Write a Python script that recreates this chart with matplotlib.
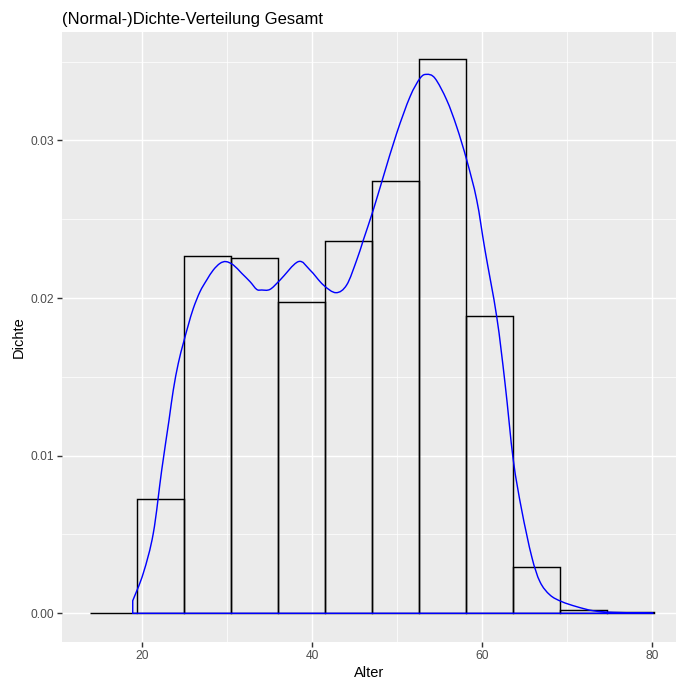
import numpy as np
import matplotlib
import matplotlib.pyplot as plt
from matplotlib.path import Path
from matplotlib.patches import PathPatch

matplotlib.rcParams.update({'font.family': ['Liberation Sans', 'DejaVu Sans']})

# Histogramm: 12 Klassen, Breite ~5.53 Jahre, als Dichte skaliert
bin_start = 13.88
bin_width = 5.533
dichte_hist = [0.0, 0.00727, 0.02265, 0.02252, 0.01973, 0.02360,
               0.02744, 0.03515, 0.01886, 0.00296, 0.00023, 0.00006]

# Kerndichteschaetzung (Alter, Dichte)
kde_alter = [18.91, 18.91, 20.15, 21.33, 22.32, 23.18, 23.68, 24.27, 24.86,
             25.45, 26.04, 26.82, 27.61, 28.39, 29.18, 29.88, 30.74, 31.73,
             32.71, 33.49, 34.08, 35.06, 36.24, 38.39, 39.76, 41.33, 42.82,
             44.08, 45.26, 46.04, 47.21, 48.39, 49.96, 51.53, 52.71, 53.49,
             54.47, 55.85, 57.02, 58.20, 59.38, 60.35, 61.73, 62.71, 63.68,
             64.67, 65.85, 66.82, 68.00, 69.38, 71.14, 73.10, 75.45, 80.15]
kde_dichte = [0.0, 0.00080, 0.00254, 0.00508, 0.00909, 0.01226, 0.01416,
              0.01586, 0.01713, 0.01829, 0.01935, 0.02040, 0.02114, 0.02178,
              0.02220, 0.02231, 0.02210, 0.02157, 0.02104, 0.02055, 0.02051,
              0.02055, 0.02114, 0.02231, 0.02178, 0.02083, 0.02034, 0.02083,
              0.02241, 0.02368, 0.02559, 0.02770, 0.03045, 0.03277, 0.03394,
              0.03419, 0.03394, 0.03256, 0.03087, 0.02876, 0.02622, 0.02305,
              0.01882, 0.01459, 0.00973, 0.00655, 0.00359, 0.00200, 0.00116,
              0.00074, 0.00042, 0.00016, 0.00006, 0.0]

x_ticks = [20, 40, 60, 80]
y_ticks = [0.00, 0.01, 0.02, 0.03]


def smooth_outline(xs, ys):
    """Geschlossener Umriss: senkrechter Anstieg, Kurve als Catmull-Rom-Bezier,
    Grundlinie zurueck zum Start."""
    p = np.column_stack([xs, ys])
    n = len(p)
    verts = [p[0], p[1]]
    codes = [Path.MOVETO, Path.LINETO]
    for i in range(1, n - 1):
        a = p[max(i - 1, 1)]
        d = p[min(i + 2, n - 1)]
        c1 = p[i] + (p[i + 1] - a) / 6
        c2 = p[i + 1] - (d - p[i]) / 6
        verts += [c1, c2, p[i + 1]]
        codes += [Path.CURVE4] * 3
    verts += [p[0], p[0]]
    codes += [Path.LINETO, Path.CLOSEPOLY]
    return Path(verts, codes)


W, H = 676, 679
fig = plt.figure(figsize=(W / 96, H / 96), dpi=96)
ax = fig.add_axes([62 / W, 1 - 642 / H, (676 - 62) / W, (642 - 32) / H])

lw = 1.07
ax.set_facecolor('#EBEBEB')
for s in ax.spines.values():
    s.set_visible(False)

# Gitter wie bei theme_grey
for x in [30, 50, 70]:
    ax.axvline(x, color='white', lw=lw / 2, zorder=0)
for y in [0.005, 0.015, 0.025, 0.035]:
    ax.axhline(y, color='white', lw=lw / 2, zorder=0)
for x in x_ticks:
    ax.axvline(x, color='white', lw=lw, zorder=0)
for y in y_ticks:
    ax.axhline(y, color='white', lw=lw, zorder=0)

edges = bin_start + bin_width * np.arange(len(dichte_hist))
ax.bar(edges, dichte_hist, width=bin_width, align='edge', fill=False,
       edgecolor='black', linewidth=lw, zorder=2)

ax.add_patch(PathPatch(smooth_outline(kde_alter, kde_dichte), facecolor='none',
                       edgecolor='blue', linewidth=lw, zorder=3))

ax.set_xlim((62 + 28) / 8.5, (676 + 28) / 8.5)
ax.set_ylim((613.3 - 642) / 15763, (613.3 - 32) / 15763)
ax.set_xticks(x_ticks)
ax.set_yticks(y_ticks)
ax.set_yticklabels(['%.2f' % v for v in y_ticks])
ax.tick_params(length=3.6, width=lw, color='#333333', labelcolor='#4D4D4D',
               labelsize=9, pad=2.2)

ax.set_xlabel('Alter', fontsize=11, labelpad=3)
ax.set_ylabel('Dichte', fontsize=11, labelpad=4)
ax.set_title('(Normal-)Dichte-Verteilung Gesamt', loc='left', fontsize=12.5,
             pad=6)

fig.savefig('out.png', dpi=96, facecolor='white')
